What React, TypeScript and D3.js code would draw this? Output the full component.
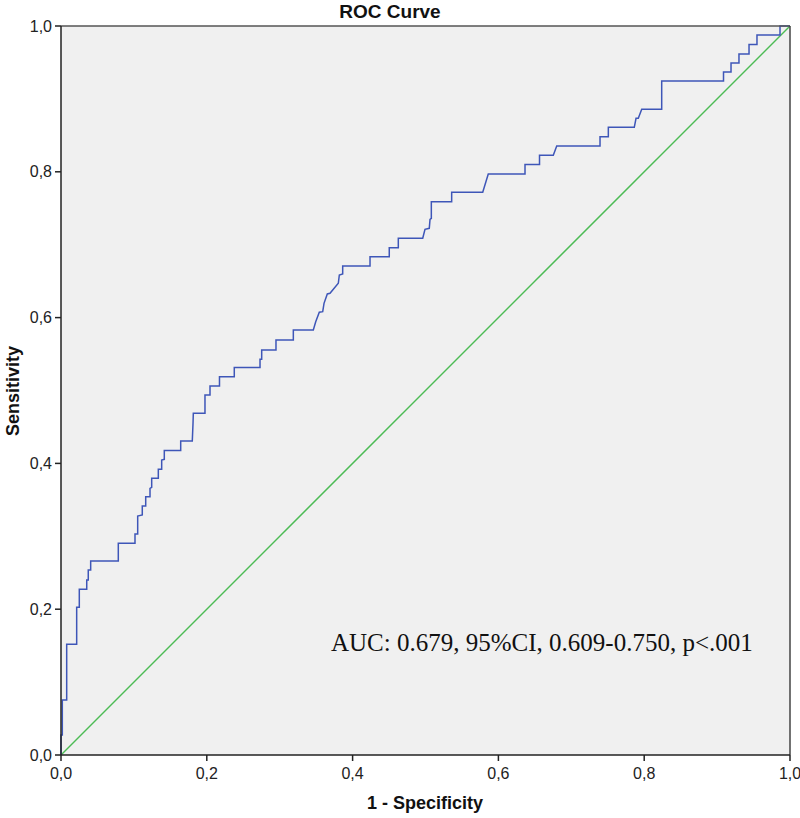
import React from "react";
import * as d3 from "d3";

const fprValues = [0, 0, 0.0018, 0.0018, 0.0078, 0.0078, 0.0215, 0.0215, 0.0251, 0.0251, 0.0353, 0.0353, 0.0374, 0.0374, 0.0407, 0.0407, 0.0786, 0.0786, 0.1015, 0.1015, 0.1052, 0.1052, 0.1115, 0.1115, 0.1162, 0.1162, 0.1221, 0.1221, 0.1244, 0.1244, 0.1335, 0.1335, 0.1381, 0.1381, 0.1417, 0.1417, 0.1642, 0.1642, 0.1801, 0.1811, 0.1815, 0.1975, 0.1975, 0.2044, 0.2044, 0.2174, 0.2174, 0.2377, 0.2377, 0.273, 0.273, 0.2753, 0.2753, 0.2949, 0.2949, 0.3187, 0.3187, 0.3461, 0.3494, 0.3543, 0.359, 0.3608, 0.3653, 0.369, 0.3804, 0.3818, 0.3864, 0.3864, 0.4239, 0.4239, 0.4503, 0.4503, 0.4627, 0.4627, 0.4962, 0.4993, 0.5052, 0.5062, 0.508, 0.508, 0.5359, 0.5359, 0.5785, 0.5861, 0.6365, 0.6365, 0.6564, 0.6564, 0.6753, 0.68, 0.7394, 0.7394, 0.7508, 0.7508, 0.7864, 0.7888, 0.7919, 0.7966, 0.824, 0.824, 0.9088, 0.9088, 0.9191, 0.9191, 0.93, 0.93, 0.9438, 0.9438, 0.9547, 0.9547, 0.9863, 0.9863, 1];
const tprValues = [0, 0.0274, 0.0274, 0.0754, 0.0754, 0.1519, 0.1519, 0.2026, 0.2026, 0.2273, 0.2273, 0.2401, 0.2401, 0.2538, 0.2538, 0.2661, 0.2661, 0.2904, 0.2904, 0.3032, 0.3032, 0.3278, 0.3292, 0.3416, 0.3416, 0.3543, 0.3543, 0.3658, 0.3672, 0.3796, 0.3796, 0.3919, 0.3919, 0.4047, 0.4056, 0.4177, 0.4177, 0.4307, 0.4307, 0.455, 0.4687, 0.4687, 0.4938, 0.4938, 0.5062, 0.5062, 0.5189, 0.5189, 0.5316, 0.5316, 0.5428, 0.5428, 0.5556, 0.5556, 0.5693, 0.5693, 0.583, 0.583, 0.5944, 0.6073, 0.6081, 0.6196, 0.6324, 0.6333, 0.6471, 0.6584, 0.6598, 0.6708, 0.6708, 0.6835, 0.6835, 0.6959, 0.6959, 0.7088, 0.7088, 0.7211, 0.7225, 0.7348, 0.7362, 0.759, 0.759, 0.7719, 0.7719, 0.797, 0.797, 0.81, 0.81, 0.8228, 0.8228, 0.8354, 0.8354, 0.8481, 0.8481, 0.861, 0.861, 0.8734, 0.8734, 0.8857, 0.8857, 0.9246, 0.9246, 0.9369, 0.9369, 0.9492, 0.9492, 0.9616, 0.9616, 0.9746, 0.9746, 0.9877, 0.9877, 1, 1];
const tickValues = [0, 0.2, 0.4, 0.6, 0.8, 1.0];
const tickLabels = ["0,0", "0,2", "0,4", "0,6", "0,8", "1,0"];
const titleText = "ROC Curve";
const xLabel = "1 - Specificity";
const yLabel = "Sensitivity";
const aucText = "AUC: 0.679, 95%CI, 0.609-0.750, p<.001";

export default function App() {
  const W = 800, H = 818;
  const left = 61, right = 790, top = 26, bottom = 755;
  const x = d3.scaleLinear().domain([0, 1]).range([left, right]);
  const y = d3.scaleLinear().domain([0, 1]).range([bottom, top]);
  const pts: [number, number][] = fprValues.map((f, i) => [f, tprValues[i]]);
  const line = d3.line<[number, number]>().x((d) => x(d[0])).y((d) => y(d[1]));
  const diag = line([[0, 0], [1, 1]]) || "";
  const roc = line(pts) || "";
  const sans = "Arial, 'Liberation Sans', sans-serif";
  return (
    <svg width={W} height={H} style={{ position: "absolute", left: 0, top: 0, background: "#fff" }}>
      <rect x={left} y={top} width={right - left} height={bottom - top} fill="#f0f0f0" />
      <text x={390} y={18} textAnchor="middle" fontFamily={sans} fontWeight="bold" fontSize={19} fill="#111">{titleText}</text>
      <path d={diag} fill="none" stroke="#4cbb55" strokeWidth={1.5} />
      <path d={roc} fill="none" stroke="#3e56b8" strokeWidth={1.5} />
      <line x1={left} y1={top} x2={right} y2={top} stroke="#555" strokeWidth={1.5} />
      <line x1={right} y1={top} x2={right} y2={bottom} stroke="#444" strokeWidth={1.5} />
      <line x1={left} y1={top} x2={left} y2={bottom} stroke="#222" strokeWidth={1.5} />
      <line x1={left} y1={bottom} x2={right} y2={bottom} stroke="#222" strokeWidth={1.5} />
      {tickValues.map((t, i) => (
        <g key={"x" + i}>
          <line x1={x(t)} x2={x(t)} y1={bottom} y2={bottom + 6} stroke="#222" strokeWidth={1.5} />
          <text x={x(t)} y={779} textAnchor="middle" fontFamily={sans} fontSize={16} fill="#222">{tickLabels[i]}</text>
        </g>
      ))}
      {tickValues.map((t, i) => (
        <g key={"y" + i}>
          <line x1={left - 6} x2={left} y1={y(t)} y2={y(t)} stroke="#222" strokeWidth={1.5} />
          <text x={52} y={y(t) + 5.5} textAnchor="end" fontFamily={sans} fontSize={16} fill="#222">{tickLabels[i]}</text>
        </g>
      ))}
      <text x={425} y={809} textAnchor="middle" fontFamily={sans} fontWeight="bold" fontSize={18} fill="#111">{xLabel}</text>
      <text transform={`translate(19, ${391}) rotate(-90)`} textAnchor="middle" fontFamily={sans} fontWeight="bold" fontSize={18} fill="#111">{yLabel}</text>
      <text x={331} y={651} fontFamily="'Liberation Serif', 'Times New Roman', serif" fontSize={25} fill="#111">{aucText}</text>
    </svg>
  );
}
